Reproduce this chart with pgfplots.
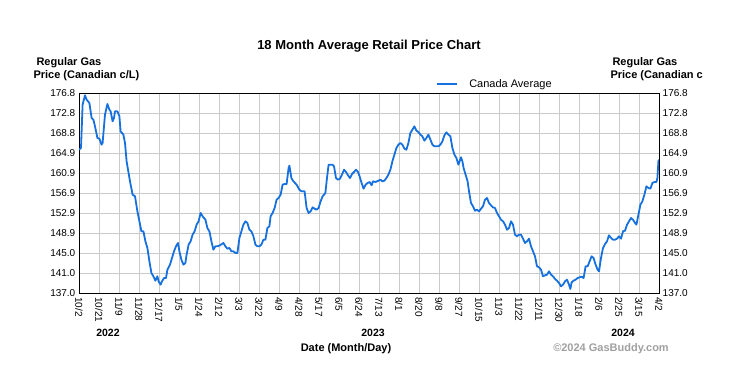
\documentclass[border=0pt]{standalone}
\usepackage{pgfplots}
\pgfplotsset{compat=1.18}
\usepackage{fontspec}
\setmainfont{Liberation Sans}
\definecolor{lineblue}{HTML}{1670DE}
\definecolor{gridgray}{HTML}{CACACA}
\definecolor{copygray}{HTML}{A0A0A0}
\begin{document}
\begin{tikzpicture}
\useasboundingbox (0,0) rectangle (754bp,378bp);
\begin{axis}[
  at={(79bp,85bp)}, anchor=south west,
  scale only axis, width=580bp, height=200bp,
  xmin=0, xmax=29, ymin=137.0, ymax=176.8,
  xtick={0,...,29},
  xticklabels={10/2,10/21,11/9,11/28,12/17,1/5,1/24,2/12,3/3,3/22,4/9,4/28,5/17,6/5,6/24,7/13,8/1,8/20,9/8,9/27,10/15,11/3,11/22,12/11,12/30,1/18,2/6,2/25,3/15,4/2},
  ytick={137.0,140.98,144.96,148.94,152.92,156.90,160.88,164.86,168.84,172.82,176.8},
  yticklabels={137.0,141.0,145.0,148.9,152.9,156.9,160.9,164.9,168.8,172.8,176.8},
  grid=major, major grid style={gridgray, line width=0.9bp},
  axis line style={black, line width=0.9bp},
  major tick length=0pt,
  /pgf/number format/assume math mode=true,
  tick label style={font=\fontsize{10bp}{12bp}\selectfont, text=black},
  x tick label style={rotate=-90, anchor=west, inner sep=4bp},
  y tick label style={inner sep=3.5bp},
  legend style={at={(0.616,1.045)}, anchor=west, draw=none, fill=none,
    font=\fontsize{11bp}{13bp}\selectfont, inner sep=0pt,
    /tikz/every odd column/.append style={column sep=9bp}},
  legend cell align=left,
  legend image code/.code={\draw[#1, line width=1.8bp] (0bp,0bp) -- (20bp,0bp);},
]
\addplot[lineblue, line width=1.8bp, line join=round] coordinates {
(0,165.52) (0.10,165.86) (0.18,174.48) (0.30,176.34) (0.38,175.47) (0.52,174.81)
(0.63,171.83) (0.72,171.49) (0.80,170.17) (0.92,167.85) (1.02,167.71) (1.13,166.52)
(1.18,166.85) (1.30,172.49) (1.42,174.61) (1.52,173.48) (1.58,173.15) (1.68,171.16)
(1.75,171.83) (1.80,173.15) (1.92,173.15) (2.02,172.16) (2.08,169.17) (2.22,168.51)
(2.30,166.85) (2.38,163.20) (2.55,159.22) (2.68,156.57) (2.80,156.24) (2.92,153.25)
(3.02,151.26) (3.12,149.27) (3.22,149.27) (3.32,147.28) (3.42,145.95) (3.52,143.30)
(3.62,140.98) (3.72,140.32) (3.82,139.45) (3.92,140.32) (3.98,139.32) (4.08,138.66)
(4.15,139.32) (4.25,139.98) (4.35,139.98) (4.42,141.64) (4.55,142.64) (4.65,143.96)
(4.75,145.29) (4.85,146.29) (4.95,146.95) (5.02,145.29) (5.12,143.63) (5.22,142.64)
(5.32,142.97) (5.38,144.63) (5.48,146.62) (5.58,147.28) (5.68,148.61) (5.78,149.27)
(5.88,150.60) (5.98,151.26) (6.08,152.92) (6.18,152.26) (6.32,151.59) (6.42,149.93)
(6.52,149.27) (6.62,147.28) (6.72,145.62) (6.82,146.29) (6.92,146.29) (7.05,146.49)
(7.22,146.95) (7.32,146.29) (7.42,145.82) (7.52,145.96) (7.62,145.29) (7.72,145.29)
(7.82,144.96) (7.92,144.96) (8.02,147.95) (8.12,149.27) (8.22,150.60) (8.32,151.26)
(8.42,150.93) (8.52,149.60) (8.62,149.27) (8.72,148.28) (8.82,146.62) (8.92,146.29)
(9.02,146.29) (9.12,146.62) (9.22,147.61) (9.32,147.61) (9.42,149.93) (9.52,150.27)
(9.58,152.26) (9.68,152.92) (9.78,153.92) (9.88,155.57) (9.98,155.91) (10.08,156.57)
(10.18,158.56) (10.28,158.69) (10.38,158.69) (10.48,161.87) (10.52,162.34) (10.62,159.88)
(10.72,159.22) (10.88,158.56) (11.02,157.56) (11.13,157.23) (11.28,157.23) (11.38,153.92)
(11.48,152.92) (11.58,153.25) (11.68,154.05) (11.78,153.78) (11.88,153.58) (11.98,153.92)
(12.08,155.24) (12.18,156.24) (12.32,156.90) (12.38,159.22) (12.48,162.54) (12.58,162.54)
(12.68,162.54) (12.75,162.21) (12.85,159.88) (12.95,159.55) (13.05,159.75) (13.15,160.55)
(13.25,161.54) (13.35,161.08) (13.45,160.42) (13.55,159.88) (13.65,160.68) (13.75,161.08)
(13.85,161.54) (13.95,161.08) (14.03,160.22) (14.13,158.89) (14.23,157.76) (14.33,158.56)
(14.43,158.89) (14.53,159.09) (14.63,158.43) (14.70,159.22) (14.83,159.09) (14.97,159.35)
(15.07,159.55) (15.17,159.22) (15.27,159.35) (15.37,159.88) (15.47,160.55) (15.57,161.54)
(15.67,163.20) (15.77,164.53) (15.87,165.85) (15.97,166.52) (16.07,166.85) (16.17,166.52)
(16.27,165.72) (16.37,165.52) (16.47,166.85) (16.57,168.84) (16.67,169.50) (16.77,170.17)
(16.87,169.30) (16.97,169.04) (17.07,168.51) (17.17,168.18) (17.27,167.31) (17.37,167.85)
(17.47,168.51) (17.57,167.51) (17.67,166.52) (17.77,166.19) (17.87,166.19) (17.97,166.19)
(18.07,166.52) (18.17,167.18) (18.27,168.38) (18.37,168.97) (18.47,168.51) (18.57,168.18)
(18.67,165.85) (18.77,164.53) (18.87,163.87) (18.97,162.54) (19.03,163.20) (19.10,164.00)
(19.17,163.20) (19.23,161.87) (19.33,160.55) (19.43,159.22) (19.50,157.23) (19.60,154.91)
(19.70,154.25) (19.80,153.38) (19.90,153.58) (20.00,153.25) (20.10,153.78) (20.20,154.25)
(20.30,155.57) (20.40,155.91) (20.50,154.91) (20.60,154.45) (20.70,154.05) (20.80,153.92)
(20.90,152.92) (21.00,152.26) (21.10,151.59) (21.20,151.26) (21.30,150.60) (21.40,149.60)
(21.50,149.93) (21.60,151.26) (21.70,150.60) (21.80,148.61) (21.90,148.28) (22.00,148.61)
(22.10,148.61) (22.20,147.81) (22.30,146.95) (22.40,147.28) (22.50,147.81) (22.60,146.29)
(22.70,145.29) (22.80,144.30) (22.90,142.31) (23.00,142.11) (23.10,141.64) (23.20,140.32)
(23.30,140.52) (23.40,140.65) (23.50,141.31) (23.60,140.65) (23.70,140.32) (23.80,139.79)
(23.90,139.45) (24.00,138.99) (24.10,138.33) (24.20,138.66) (24.30,139.32) (24.40,139.65)
(24.50,138.66) (24.57,137.80) (24.63,139.12) (24.73,139.45) (24.83,139.65) (24.93,139.98)
(25.03,140.12) (25.13,140.25) (25.23,139.98) (25.33,142.31) (25.43,142.31) (25.53,143.30)
(25.63,144.30) (25.73,143.96) (25.83,142.64) (25.93,141.64) (26.00,141.31) (26.10,143.96)
(26.20,145.95) (26.30,146.75) (26.40,147.28) (26.50,148.48) (26.60,147.95) (26.70,147.61)
(26.80,147.61) (26.90,147.81) (27.00,148.28) (27.10,147.81) (27.20,149.27) (27.30,149.40)
(27.40,150.60) (27.50,151.26) (27.60,151.92) (27.70,151.59) (27.80,150.93) (27.87,150.60)
(27.97,152.59) (28.07,154.58) (28.17,155.24) (28.27,156.57) (28.37,158.23) (28.47,157.89)
(28.57,157.76) (28.67,158.89) (28.77,159.09) (28.87,159.09) (28.92,159.88) (28.97,163.20)
(29.00,163.53)
};
\addlegendentry{Canada Average}
\end{axis}
\begin{axis}[
  at={(79bp,85bp)}, anchor=south west,
  scale only axis, width=580bp, height=200bp,
  xmin=0, xmax=29, ymin=137.0, ymax=176.8,
  axis x line=none, axis y line*=right,
  axis line style={black, line width=0.9bp},
  major tick length=0pt,
  ytick={137.0,140.98,144.96,148.94,152.92,156.90,160.88,164.86,168.84,172.82,176.8},
  yticklabels={137.0,141.0,145.0,148.9,152.9,156.9,160.9,164.9,168.8,172.8,176.8},
  tick label style={font=\fontsize{10bp}{12bp}\selectfont, text=black},
  y tick label style={inner sep=3.5bp},
]
\end{axis}
\node[font=\fontsize{13bp}{15bp}\selectfont\bfseries] at (369bp,332bp) {18 Month Average Retail Price Chart};
\node[font=\fontsize{11bp}{13bp}\selectfont\bfseries, anchor=west] at (33bp,315bp) {Regular Gas};
\node[font=\fontsize{11bp}{13bp}\selectfont\bfseries, anchor=west] at (30bp,302bp) {Price (Canadian c/L)};
\node[font=\fontsize{11bp}{13bp}\selectfont\bfseries, anchor=west] at (609bp,315bp) {Regular Gas};
\node[font=\fontsize{11bp}{13bp}\selectfont\bfseries, anchor=west] at (607bp,302bp) {Price (Canadian c};
\node[font=\fontsize{10.5bp}{12bp}\selectfont\bfseries] at (108bp,45bp) {2022};
\node[font=\fontsize{10.5bp}{12bp}\selectfont\bfseries] at (373bp,45bp) {2023};
\node[font=\fontsize{10.5bp}{12bp}\selectfont\bfseries] at (623bp,45bp) {2024};
\node[font=\fontsize{11bp}{13bp}\selectfont\bfseries] at (346bp,29bp) {Date (Month/Day)};
\node[font=\fontsize{11bp}{13bp}\selectfont\bfseries, text=copygray] at (611bp,29bp) {\textcopyright2024 GasBuddy.com};
\end{tikzpicture}
\end{document}
